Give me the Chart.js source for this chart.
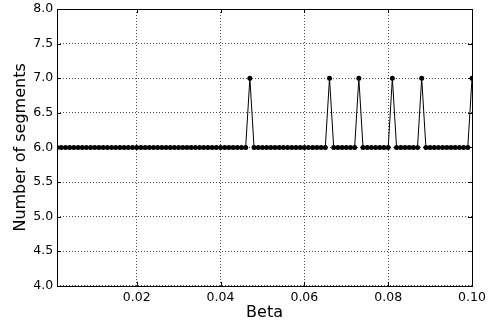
<!DOCTYPE html>
<html>
<head>
<meta charset="utf-8">
<script src="https://cdn.jsdelivr.net/npm/chart.js@4/dist/chart.umd.min.js"></script>
<style>
  html, body { margin: 0; padding: 0; background: #fff; }
  #wrap { width: 494px; height: 325px; }
</style>
</head>
<body>
<div id="wrap"><canvas id="c" width="494" height="325"></canvas></div>
<script>
// beta values (x)
const betaValues = [
  0.001, 0.002, 0.003, 0.004, 0.005, 0.006, 0.007, 0.008, 0.009, 0.010,
  0.011, 0.012, 0.013, 0.014, 0.015, 0.016, 0.017, 0.018, 0.019, 0.020,
  0.021, 0.022, 0.023, 0.024, 0.025, 0.026, 0.027, 0.028, 0.029, 0.030,
  0.031, 0.032, 0.033, 0.034, 0.035, 0.036, 0.037, 0.038, 0.039, 0.040,
  0.041, 0.042, 0.043, 0.044, 0.045, 0.046, 0.047, 0.048, 0.049, 0.050,
  0.051, 0.052, 0.053, 0.054, 0.055, 0.056, 0.057, 0.058, 0.059, 0.060,
  0.061, 0.062, 0.063, 0.064, 0.065, 0.066, 0.067, 0.068, 0.069, 0.070,
  0.071, 0.072, 0.073, 0.074, 0.075, 0.076, 0.077, 0.078, 0.079, 0.080,
  0.081, 0.082, 0.083, 0.084, 0.085, 0.086, 0.087, 0.088, 0.089, 0.090,
  0.091, 0.092, 0.093, 0.094, 0.095, 0.096, 0.097, 0.098, 0.099, 0.100
];

// number of segments (y)
const segmentCounts = [
  6, 6, 6, 6, 6, 6, 6, 6, 6, 6,
  6, 6, 6, 6, 6, 6, 6, 6, 6, 6,
  6, 6, 6, 6, 6, 6, 6, 6, 6, 6,
  6, 6, 6, 6, 6, 6, 6, 6, 6, 6,
  6, 6, 6, 6, 6, 6, 7, 6, 6, 6,
  6, 6, 6, 6, 6, 6, 6, 6, 6, 6,
  6, 6, 6, 6, 6, 7, 6, 6, 6, 6,
  6, 6, 7, 6, 6, 6, 6, 6, 6, 6,
  7, 6, 6, 6, 6, 6, 6, 7, 6, 6,
  6, 6, 6, 6, 6, 6, 6, 6, 6, 7
];

const xTicks = [0.02, 0.04, 0.06, 0.08, 0.10];
const yTicks = [4.0, 4.5, 5.0, 5.5, 6.0, 6.5, 7.0, 7.5, 8.0];

// frame + inward tick marks like the old matplotlib style
const framePlugin = {
  id: 'frame',
  afterDraw(chart) {
    const { ctx, chartArea: a, scales } = chart;
    ctx.save();
    ctx.strokeStyle = '#000';
    ctx.lineWidth = 1;
    ctx.strokeRect(Math.round(a.left) + 0.5, Math.round(a.top) + 0.5,
      Math.round(a.right - a.left), Math.round(a.bottom - a.top));
    ctx.beginPath();
    xTicks.forEach(v => {
      const px = Math.round(scales.x.getPixelForValue(v)) + 0.5;
      ctx.moveTo(px, a.bottom); ctx.lineTo(px, a.bottom - 4);
      ctx.moveTo(px, a.top); ctx.lineTo(px, a.top + 4);
    });
    yTicks.forEach(v => {
      const py = Math.round(scales.y.getPixelForValue(v)) + 0.5;
      ctx.moveTo(a.left, py); ctx.lineTo(a.left + 4, py);
      ctx.moveTo(a.right, py); ctx.lineTo(a.right - 4, py);
    });
    ctx.stroke();
    ctx.restore();
  }
};

const font = { family: 'DejaVu Sans', size: 12.5 };

new Chart(document.getElementById('c'), {
  type: 'line',
  data: {
    datasets: [{
      data: betaValues.map((b, i) => ({ x: b, y: segmentCounts[i] })),
      borderColor: '#000',
      backgroundColor: '#000',
      borderWidth: 1,
      pointRadius: 2.5,
      pointBorderWidth: 0,
      pointBackgroundColor: '#000',
      tension: 0
    }]
  },
  options: {
    responsive: false,
    animation: false,
    layout: { padding: { top: 9, right: 22, left: 11, bottom: 3 } },
    plugins: { legend: { display: false }, tooltip: { enabled: false } },
    scales: {
      x: {
        type: 'linear',
        min: 0.001,
        max: 0.1,
        afterBuildTicks: s => { s.ticks = xTicks.map(v => ({ value: v })); },
        afterFit: s => { s.paddingLeft = 0; s.paddingRight = 0; },
        ticks: {
          color: '#000',
          font,
          padding: 4,
          maxRotation: 0,
          callback: v => v.toFixed(2)
        },
        grid: {
          color: 'rgba(0,0,0,0.7)',
          lineWidth: 1,
          drawTicks: false
        },
        border: { display: false, dash: [1, 2] },
        title: {
          display: true,
          text: 'Beta',
          color: '#000',
          font: { family: 'DejaVu Sans', size: 16 },
          padding: { top: -6, bottom: 0 }
        }
      },
      y: {
        min: 4,
        max: 8,
        afterBuildTicks: s => { s.ticks = yTicks.map(v => ({ value: v })); },
        afterFit: s => { s.paddingTop = 0; s.paddingBottom = 0; },
        ticks: {
          color: '#000',
          font,
          padding: 4,
          callback: v => v.toFixed(1)
        },
        grid: {
          color: 'rgba(0,0,0,0.7)',
          lineWidth: 1,
          drawTicks: false
        },
        border: { display: false, dash: [1, 2] },
        title: {
          display: true,
          text: 'Number of segments',
          color: '#000',
          font: { family: 'DejaVu Sans', size: 16 },
          padding: { top: 0, bottom: -1 }
        }
      }
    }
  },
  plugins: [framePlugin]
});
</script>
</body>
</html>
